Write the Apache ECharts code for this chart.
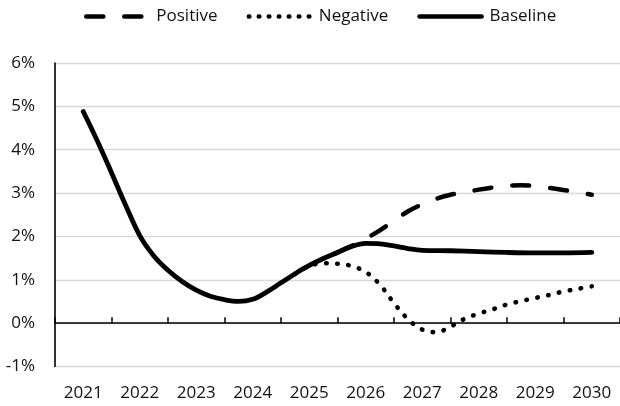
<!DOCTYPE html>
<html>
<head>
<meta charset="utf-8">
<script src="https://cdn.jsdelivr.net/npm/echarts@6/dist/echarts.min.js"></script>
<style>
html,body{margin:0;padding:0;background:#fff;}
#chart{width:620px;height:406px;}
</style>
</head>
<body>
<div id="chart"></div>
<script>
// Category tick labels
const years = ['2021','2022','2023','2024','2025','2026','2027','2028','2029','2030'];
// Y axis range (percent)
const yMin = -1, yMax = 6, yStep = 1;

// Series values: [year position, percent]
const baseline = [
  [2021.0,4.88],[2021.25,4.2],[2021.5,3.47],[2021.75,2.72],[2022.0,2.02],
  [2022.25,1.55],[2022.5,1.22],[2022.75,0.96],[2023.0,0.76],[2023.25,0.62],
  [2023.5,0.54],[2023.75,0.50],[2024.0,0.55],[2024.25,0.72],[2024.5,0.93],
  [2024.75,1.14],[2025.0,1.33],[2025.25,1.49],[2025.5,1.63],[2025.75,1.77],
  [2026.0,1.84],[2026.25,1.83],[2026.5,1.78],[2026.75,1.72],[2027.0,1.68],
  [2027.5,1.67],[2028.0,1.65],[2028.5,1.63],[2029.0,1.62],[2029.5,1.62],[2030.0,1.63]
];
const positive = [
  [2025.5,1.63],[2025.75,1.78],[2026.0,1.95],[2026.25,2.14],[2026.5,2.36],
  [2026.75,2.58],[2027.0,2.74],[2027.25,2.87],[2027.5,2.96],[2027.75,3.02],
  [2028.0,3.08],[2028.25,3.13],[2028.5,3.17],[2028.75,3.18],[2029.0,3.16],
  [2029.25,3.12],[2029.5,3.07],[2029.75,3.02],[2030.0,2.96]
];
const negative = [
  [2024.75,1.14],[2025.0,1.32],[2025.25,1.38],[2025.5,1.37],[2025.75,1.32],
  [2026.0,1.18],[2026.25,0.89],[2026.5,0.46],[2026.75,0.09],[2027.0,-0.15],
  [2027.25,-0.21],[2027.5,-0.08],[2027.75,0.10],[2028.0,0.22],[2028.25,0.32],
  [2028.5,0.43],[2028.75,0.51],[2029.0,0.58],[2029.25,0.65],[2029.5,0.73],
  [2029.75,0.79],[2030.0,0.85]
];

const FONT = '"Open Sans", "Noto Sans", sans-serif';
const chart = echarts.init(document.getElementById('chart'), null, {renderer:'canvas'});

chart.setOption({
  animation: false,
  backgroundColor: '#fff',
  textStyle: {fontFamily: FONT, color: '#111'},
  legend: {
    top: 8,
    left: 84,
    padding: 0,
    itemWidth: 62,
    itemHeight: 14,
    itemGap: 29,
    itemStyle: {opacity: 0, color: 'transparent', borderWidth: 0},
    lineStyle: {width: 4.6, cap: 'round', color: '#000'},
    textStyle: {fontFamily: FONT, fontSize: 17, color: '#111', padding: [0,0,0,3]},
    data: [
      {name: 'Positive'},
      {name: 'Negative', lineStyle: {width: 4.6, type: [0.5, 9.5], cap: 'round', color: '#000'}},
      {name: 'Baseline'}
    ]
  },
  grid: {left: 55, right: -2, top: 63, bottom: 39.5, containLabel: false},
  xAxis: [
    {
      type: 'category', data: years, position: 'bottom', boundaryGap: true,
      axisLine: {show: false, onZero: false},
      axisTick: {show: false},
      axisLabel: {fontFamily: FONT, fontSize: 17, color: '#111', margin: 18},
      splitLine: {show: false}
    },
    {
      type: 'category', data: years, position: 'bottom', boundaryGap: true,
      axisLine: {show: true, onZero: true, lineStyle: {color: '#000', width: 1.6}},
      axisTick: {show: true, inside: true, length: 6, lineStyle: {color: '#000', width: 1.5}},
      axisLabel: {show: false},
      splitLine: {show: false}
    },
    {
      type: 'value', min: 2020.5, max: 2030.5, show: false, position: 'top'
    }
  ],
  yAxis: {
    type: 'value', min: yMin, max: yMax, interval: yStep,
    axisLine: {show: true, lineStyle: {color: '#000', width: 1.6}},
    axisTick: {show: false},
    axisLabel: {fontFamily: FONT, fontSize: 17, color: '#111', margin: 20, formatter: '{value}%'},
    splitLine: {show: true, lineStyle: {color: '#d9d9d9', width: 1.3}}
  },
  series: [
    {
      name: 'Positive', type: 'line', xAxisIndex: 2, data: positive,
      smooth: 0.35, symbol: 'none',
      lineStyle: {color: '#000', width: 4.5, type: [17, 21], cap: 'round'},
      itemStyle: {color: '#000'}
    },
    {
      name: 'Negative', type: 'line', xAxisIndex: 2, data: negative,
      smooth: 0.35, symbol: 'none',
      lineStyle: {color: '#000', width: 4.6, type: [0.5, 10.6], cap: 'round'},
      itemStyle: {color: '#000'}
    },
    {
      name: 'Baseline', type: 'line', xAxisIndex: 2, data: baseline,
      smooth: 0.35, symbol: 'none',
      lineStyle: {color: '#000', width: 4.8, cap: 'round', join: 'round'},
      itemStyle: {color: '#000'}
    }
  ]
});
</script>
</body>
</html>
